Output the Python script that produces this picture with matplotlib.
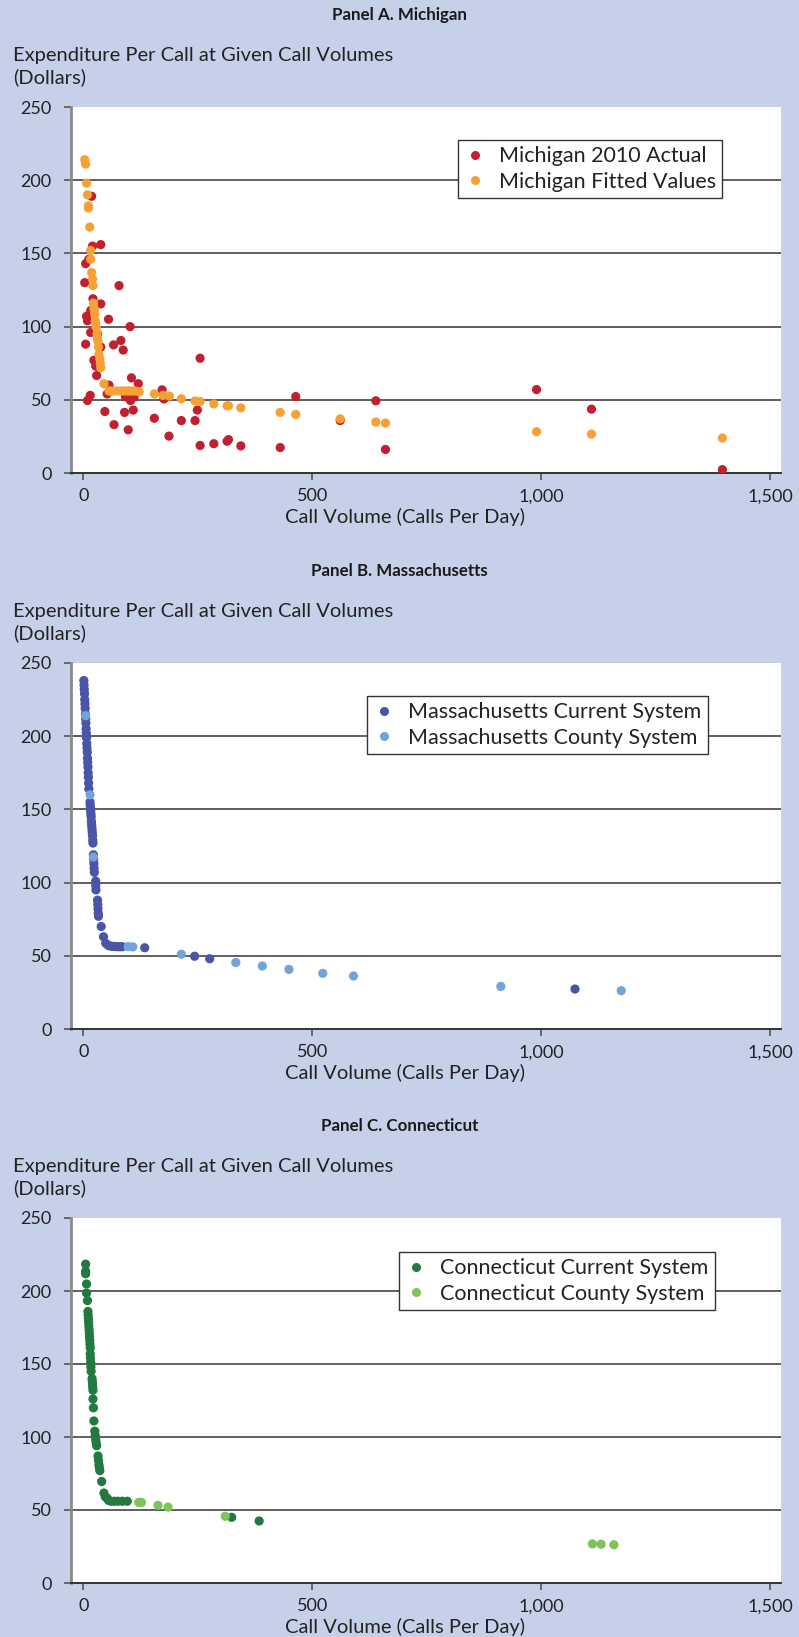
import matplotlib
matplotlib.use("Agg")
import matplotlib.pyplot as plt
from matplotlib.ticker import FuncFormatter

plt.rcParams['font.family'] = ['Lato', 'DejaVu Sans']

# ---------------- data ----------------
mi_actual_x = [18, 20, 38, 12, 5, 3, 78, 21, 38, 7, 9, 16, 55, 102, 16, 31, 5, 66, 82, 87, 38,
               23, 27, 29, 105, 120, 56, 52, 15, 9, 92, 103, 111, 47, 90, 109, 67, 98,
               255, 172, 176, 155, 214, 244, 249, 187, 255, 285, 314, 317, 344, 430, 464,
               561, 639, 660, 990, 1110, 1396]
mi_actual_y = [189, 155, 156, 146, 143, 130, 128, 119, 115.5, 107, 104, 111, 105, 100, 96, 95, 88,
               87.5, 90.5, 84, 86, 77, 73, 66.6, 65, 61, 60, 54, 53, 49.5, 52, 49.5, 52, 42,
               41.4, 43, 33, 29.5,
               78.4, 56.8, 50.6, 37.4, 35.8, 35.8, 43, 25.2, 18.8, 20, 21.7, 22.8, 18.5, 17.4,
               52.2, 35.8, 49.3, 16.1, 57, 43.6, 2.3]

mi_fitted_x = [3, 5, 7, 9, 11, 11, 14, 16, 16, 18, 20, 21, 22, 23, 24, 25, 26, 27, 28, 30, 31,
               32, 33, 34, 36, 37, 38, 45, 56, 60, 67, 74, 82, 89, 96, 100, 107, 114, 122,
               155, 174, 188, 214, 244, 255, 285, 314, 317, 344, 430, 464, 561, 639, 660,
               990, 1110, 1396]
mi_fitted_y = [214, 211, 198, 190, 182.5, 181, 168, 152, 146, 137, 132.5, 128, 116, 113, 111,
               108.6, 104, 102, 99.5, 95, 92, 90, 86, 81, 78, 75, 72, 61, 56, 56, 56, 56, 56,
               56, 56, 56, 56, 56, 55.5,
               54, 53, 52.5, 50.7, 49.2, 48.8, 47.2, 45.9, 45.9, 44.5, 41.4, 40, 37, 34.8,
               34.1, 28.2, 26.6, 23.9]

ma_current_x = [1, 1.5, 2, 2.5, 3, 3.5, 4, 4.5, 5, 5.5, 6, 6.5, 7, 7.5, 8, 8.5, 9, 9.5, 10,
                10.5, 11, 11.5, 12,
                14.5, 15, 15.5, 16, 16.5, 17, 17.5, 18, 18.5, 19, 19.5, 20, 20.5, 21,
                22, 22.5, 23, 23.5, 24, 27, 27, 27.5, 31, 31.5, 32, 32.5, 33, 39,
                44, 49, 55, 60, 65, 70, 75, 80, 85, 134, 243, 276, 1074]
ma_current_y = [238, 235, 232, 229, 225, 222, 219, 215, 212, 209, 205, 202, 199, 195, 192,
                189, 185, 182, 179, 175, 172, 168, 164,
                155, 153, 151, 149, 147, 145, 142, 140, 138, 136, 134, 132, 129, 127,
                119, 116, 113, 110, 107, 101, 98, 95, 88, 85, 82, 79, 77, 70,
                63, 58.5, 57, 56.6, 56.4, 56.3, 56.2, 56.2, 56.2, 55.5, 49.7, 48, 27.3]

ma_county_x = [5, 14.6, 22, 98, 108, 214, 333, 391, 449, 523, 590, 912, 1175]
ma_county_y = [214, 160, 117.5, 56.3, 56.1, 51.1, 45.4, 43, 40.7, 38, 36.2, 29.1, 26.2]

ct_current_x = [5, 5, 5, 7, 7, 9, 10, 10.5, 11, 11.5, 12, 12.5, 13, 13.5, 14, 14.5, 15,
                15, 15.5, 16, 16.5, 17, 19, 19.5, 20, 20.5, 21, 21, 22, 23, 25, 26, 27, 28,
                29, 32, 33, 34, 35, 36, 40, 45, 48, 52, 55, 60, 67, 75, 85, 96, 324, 384]
ct_current_y = [218.4, 213.6, 211.8, 204.8, 198.6, 193.4, 186, 183.5, 181, 178.5, 176, 173.5,
                171, 168.5, 166, 163.5, 161, 157, 154, 151, 148, 145, 140, 138, 136, 134,
                132, 126, 120, 111, 104, 101, 98, 96, 94, 87, 84, 81, 79, 77, 69.5, 61.6,
                59, 58, 56.6, 56, 56, 56, 56, 56, 45, 42.5]

ct_county_x = [121, 127, 163, 185, 310, 1112, 1131, 1159]
ct_county_y = [55.2, 55.2, 53.2, 52, 45.7, 26.8, 26.6, 26.2]

y_ticks = [0, 50, 100, 150, 200, 250]
x_ticks = [0, 500, 1000, 1500]

panel_titles = ["Panel A. Michigan", "Panel B. Massachusetts", "Panel C. Connecticut"]
y_label = "Expenditure Per Call at Given Call Volumes\n(Dollars)"
x_label = "Call Volume (Calls Per Day)"

# ---------------- style ----------------
BG = "#c6d0e8"
RED = "#c21f2f"
ORANGE = "#f7a035"
DBLUE = "#4a55a8"
LBLUE = "#74a3da"
DGREEN = "#237a40"
LGREEN = "#7dc558"

W, H = 799, 1637
fig = plt.figure(figsize=(W / 100, H / 100), dpi=100)
fig.patch.set_facecolor(BG)

panels = [
    dict(top=107, bottom=473,
         series=[(mi_actual_x, mi_actual_y, RED, "Michigan 2010 Actual"),
                 (mi_fitted_x, mi_fitted_y, ORANGE, "Michigan Fitted Values")],
         legend=(458, 140)),
    dict(top=663, bottom=1029,
         series=[(ma_current_x, ma_current_y, DBLUE, "Massachusetts Current System"),
                 (ma_county_x, ma_county_y, LBLUE, "Massachusetts County System")],
         legend=(367, 696)),
    dict(top=1218, bottom=1583,
         series=[(ct_current_x, ct_current_y, DGREEN, "Connecticut Current System"),
                 (ct_county_x, ct_county_y, LGREEN, "Connecticut County System")],
         legend=(399, 1252)),
]

left_px, right_px = 71, 781
fmt = FuncFormatter(lambda v, p: f"{int(v):,}")

for i, p in enumerate(panels):
    ax = fig.add_axes([left_px / W, 1 - p['bottom'] / H,
                       (right_px - left_px) / W, (p['bottom'] - p['top']) / H])
    ax.set_facecolor("white")
    ax.set_xlim(-27, 1524)
    ax.set_ylim(0, 250)
    for yv in y_ticks[1:-1]:
        ax.axhline(yv, color="#333333", lw=1.1, zorder=1)
    handles = []
    order = [0, 1] if i < 2 else [1, 0]
    for k in order:
        xs, ys, col, lab = p['series'][k]
        ax.scatter(xs, ys, s=44, color=col, edgecolors='none', zorder=3 + k)
    for xs, ys, col, lab in p['series']:
        handles.append(plt.Line2D([], [], marker='o', ls='none', color=col,
                                  markersize=6.5, markeredgewidth=0, label=lab))
    for s in ['top', 'right']:
        ax.spines[s].set_visible(False)
    ax.spines['left'].set_color("#8a8a8a")
    ax.spines['left'].set_linewidth(2.0)
    ax.spines['bottom'].set_color("#333333")
    ax.spines['bottom'].set_linewidth(1.4)
    ax.set_yticks(y_ticks)
    ax.set_xticks(x_ticks)
    ax.xaxis.set_major_formatter(fmt)
    ax.tick_params(axis='y', length=5, width=1.2, color="#555555", pad=9,
                   labelsize=13, labelcolor="#222222")
    ax.tick_params(axis='x', length=5, width=1.2, color="#555555", pad=6,
                   labelsize=13, labelcolor="#222222")
    lx, ly = p['legend']
    leg = fig.legend(handles=handles, loc='upper left',
                     bbox_to_anchor=(lx / W, 1 - ly / H), fontsize=15.5,
                     frameon=True, fancybox=False, edgecolor="#333333",
                     framealpha=1, borderpad=0.3, labelspacing=0.25,
                     handletextpad=0.6, handlelength=1.0, borderaxespad=0)
    leg.get_frame().set_linewidth(1.0)
    for t in leg.get_texts():
        t.set_color("#222222")

    # title, y label, x label
    fig.text(0.5, 1 - (p['top'] - 92) / H, panel_titles[i], ha='center', va='center',
             fontsize=12.2, fontweight='bold', color="#1a1a1a")
    fig.text(13 / W, 1 - (p['top'] - 40.5) / H, y_label, ha='left', va='center',
             fontsize=14.5, color="#222222", linespacing=1.33)
    fig.text(405 / W, 1 - (p['bottom'] + 44) / H, x_label, ha='center', va='center',
             fontsize=14.5, color="#222222")

fig.savefig("out.png", dpi=100, facecolor=BG)
